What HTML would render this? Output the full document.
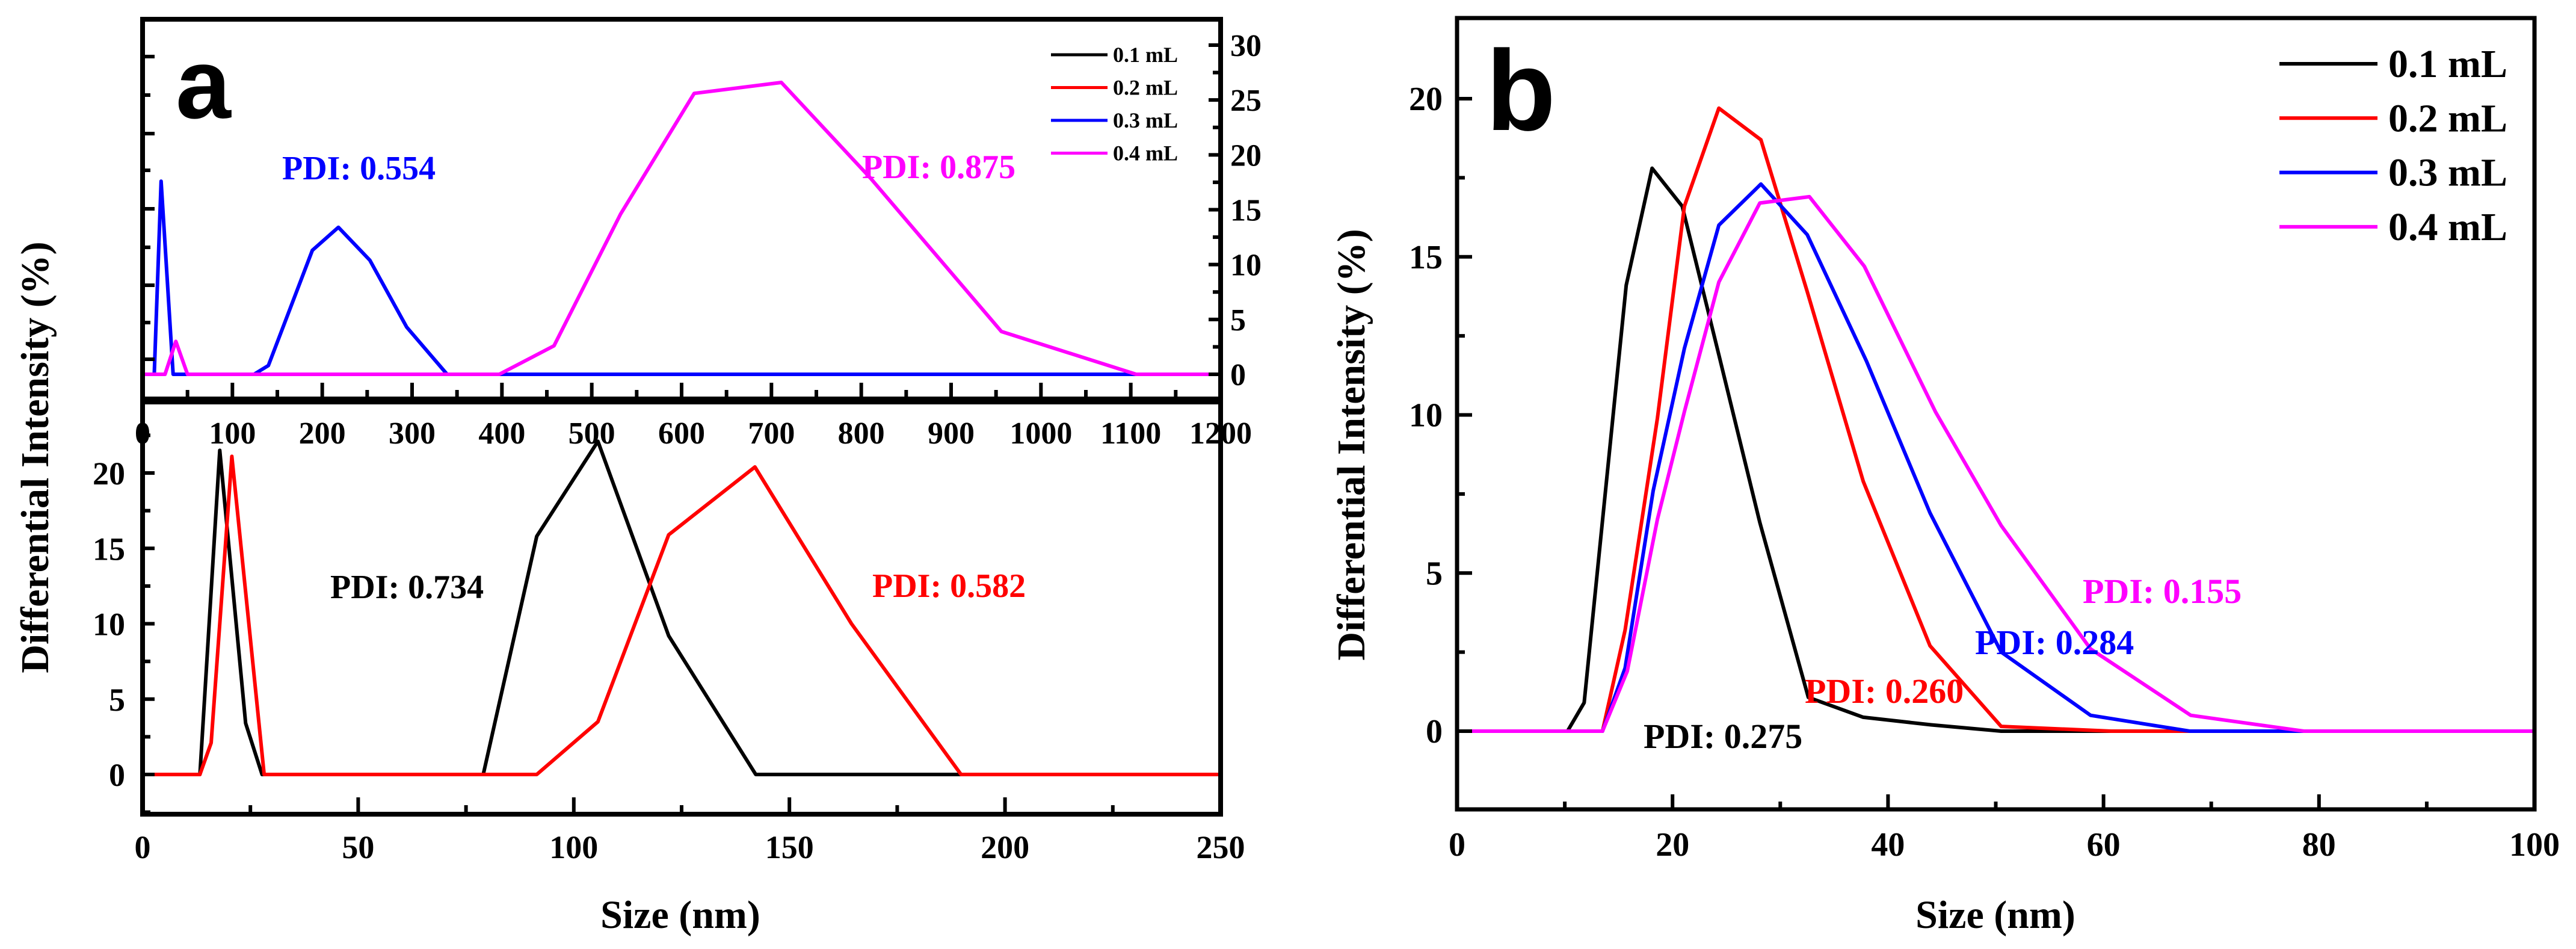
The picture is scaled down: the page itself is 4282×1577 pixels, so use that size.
<!DOCTYPE html>
<html><head><meta charset="utf-8">
<style>
html,body{margin:0;padding:0;background:#fff;}
svg{display:block;font-family:"Liberation Serif",serif;font-weight:bold;}
</style></head>
<body>
<svg id="chart" width="4282" height="1577" viewBox="0 0 4282 1577" xmlns="http://www.w3.org/2000/svg">
<g id="layer"></g>
<text transform="translate(80,760) rotate(-90)" text-anchor="middle" font-size="66" fill="#000">Differential Intensity (%)</text>
<text x="1131" y="1542" text-anchor="middle" font-size="66" fill="#000">Size (nm)</text>
<text transform="translate(2268,739) rotate(-90)" text-anchor="middle" font-size="66" fill="#000">Differential Intensity (%)</text>
<text x="3317" y="1542" text-anchor="middle" font-size="66" fill="#000">Size (nm)</text>
<text x="292" y="196" font-family="Liberation Sans, sans-serif" font-weight="bold" font-size="165" fill="#000">a</text>
<text x="2470" y="216" font-family="Liberation Sans, sans-serif" font-weight="bold" font-size="190" fill="#000">b</text>
<text x="469" y="298" font-size="56" fill="#0000ff">PDI: 0.554</text>
<text x="1433" y="296" font-size="56" fill="#ff00ff">PDI: 0.875</text>
<text x="549" y="994" font-size="56" fill="#000">PDI: 0.734</text>
<text x="1450" y="992" font-size="56" fill="#ff0000">PDI: 0.582</text>
<text x="3462" y="1002" font-size="58" fill="#ff00ff">PDI: 0.155</text>
<text x="3283" y="1087" font-size="58" fill="#0000ff">PDI: 0.284</text>
<text x="3000" y="1168" font-size="58" fill="#ff0000">PDI: 0.260</text>
<text x="2732" y="1243" font-size="58" fill="#000">PDI: 0.275</text>
</svg>
<script>
// ---- data ----
const legendLabels = ["0.1 mL","0.2 mL","0.3 mL","0.4 mL"];
const seriesColors = ["#000000","#ff0000","#0000ff","#ff00ff"];
// panel a upper
const aTopBlueX = [0,13,20.6,34,124,140,189,218,253,294,339,1200];
const aTopBlueY = [0,0,17.6,0,0,0.8,11.3,13.4,10.4,4.3,0,0];
const aTopMagX = [0,25,37,50,397,458,532,614,711,810,956,1106,1200];
const aTopMagY = [0,0,3.0,0,0,2.6,14.6,25.6,26.6,17.9,3.9,0,0];
// panel a lower
const aLowBlackX = [0,13.3,17.9,23.9,27.7,79,91.4,105.6,122,142.2,250];
const aLowBlackY = [0,0,21.5,3.4,0,0,15.8,22.1,9.2,0,0];
const aLowRedX = [0,13.3,15.9,20.7,28.2,91.4,105.6,122,142,164.4,189.8,250];
const aLowRedY = [0,0,2.1,21.1,0,0,3.5,15.9,20.4,10.0,0,0];
// panel b
const bBlackX = [0,10.25,11.8,15.7,18.1,20.9,24.3,28.1,32.6,37.7,44,50.5,100];
const bBlackY = [0,0,0.9,14.1,17.8,16.6,11.9,6.6,1.07,0.44,0.2,0,0];
const bRedX = [0,13.5,15.6,18.6,21.1,24.3,28.2,32.5,37.7,43.9,50.5,60.7,100];
const bRedY = [0,0,3.2,9.9,16.6,19.7,18.7,13.9,7.9,2.7,0.15,0,0];
const bBlueX = [0,13.5,15.6,18.2,21.1,24.3,28.2,32.5,38,43.9,50.5,58.8,68,100];
const bBlueY = [0,0,2.0,7.6,12.1,16.0,17.3,15.7,11.7,6.9,2.5,0.5,0,0];
const bMagX = [0,13.5,15.8,18.6,21.1,24.3,28.1,32.7,37.8,44.4,50.5,58.8,68.1,78.6,100];
const bMagY = [0,0,1.9,6.7,10.1,14.2,16.7,16.9,14.7,10.1,6.5,2.6,0.5,0,0];
const aTopXTicks = [0,100,200,300,400,500,600,700,800,900,1000,1100,1200];
const aTopYTicks = [0,5,10,15,20,25,30];
const aLowXTicks = [0,50,100,150,200,250];
const aLowYTicks = [0,5,10,15,20];
const bXTicks = [0,20,40,60,80,100];
const bYTicks = [0,5,10,15,20];

const NS="http://www.w3.org/2000/svg";
const layer=document.getElementById('layer');
function mk(tag,attrs,parent){const e=document.createElementNS(NS,tag);for(const k in attrs)e.setAttribute(k,attrs[k]);(parent||layer).appendChild(e);return e;}
function lin(d0,d1,r0,r1){return v=>r0+(v-d0)*(r1-r0)/(d1-d0);}

const axTopX=lin(0,1200,237,2029), axTopY=lin(0,30,622,75);
const axLowX=lin(0,250,237,2029), axLowY=lin(0,20,1287,786);
const bX=lin(0,100,2422,4213), bY=lin(0,20,1215,164);

function drawLine(xs,ys,fx,fy,color,name){
  const pts=xs.map((x,i)=>fx(x).toFixed(1)+','+fy(ys[i]).toFixed(1)).join(' ');
  const p=mk('polyline',{points:pts,fill:'none',stroke:color,'stroke-width':6,'stroke-linejoin':'round'});
  
  
}
function tickLabel(x,y,txt,anchor,size,name){
  const t=mk('text',{x:x,y:y,'text-anchor':anchor,'font-size':size,fill:'#000'});
  t.textContent=txt;
  
  
}
function tick(x1,y1,x2,y2){
  const l=mk('line',{x1:x1,y1:y1,x2:x2,y2:y2,stroke:'#000','stroke-width':6});
  
  
}

drawLine(aTopBlueX,aTopBlueY,axTopX,axTopY,seriesColors[2],'line-a-top-0.3ml');
drawLine(aTopMagX,aTopMagY,axTopX,axTopY,seriesColors[3],'line-a-top-0.4ml');
drawLine(aLowBlackX,aLowBlackY,axLowX,axLowY,seriesColors[0],'line-a-low-0.1ml');
drawLine(aLowRedX,aLowRedY,axLowX,axLowY,seriesColors[1],'line-a-low-0.2ml');
drawLine(bBlackX,bBlackY,bX,bY,seriesColors[0],'line-b-0.1ml');
drawLine(bRedX,bRedY,bX,bY,seriesColors[1],'line-b-0.2ml');
drawLine(bBlueX,bBlueY,bX,bY,seriesColors[2],'line-b-0.3ml');
drawLine(bMagX,bMagY,bX,bY,seriesColors[3],'line-b-0.4ml');

const f1=mk('rect',{x:237,y:32,width:1792,height:631,fill:'none',stroke:'#000','stroke-width':8});


const f2=mk('rect',{x:237,y:668,width:1792,height:685,fill:'none',stroke:'#000','stroke-width':8});


const f3=mk('rect',{x:2422,y:30,width:1791,height:1315,fill:'none',stroke:'#000','stroke-width':7});



aTopXTicks.forEach(v=>{tick(axTopX(v),663,axTopX(v),636);tickLabel(axTopX(v),737,String(v),'middle',52,'x-tick-label-a-top');});
for(let v=50;v<1200;v+=100)tick(axTopX(v),663,axTopX(v),648);
aTopYTicks.forEach(v=>{tick(2029,axTopY(v),2009,axTopY(v));tickLabel(2045,axTopY(v)+18,String(v),'start',52,'y-tick-label-a-top');});
for(let v=2.5;v<30;v+=5)tick(2029,axTopY(v),2016,axTopY(v));
[94,158,222,283,347,411,474,536,597].forEach((y,i)=>tick(237,y,i%2?250:257,y));
aLowXTicks.forEach(v=>{tick(axLowX(v),1353,axLowX(v),1325);tickLabel(axLowX(v),1426,String(v),'middle',54,'x-tick-label-a-low');});
for(let v=25;v<250;v+=50)tick(axLowX(v),1353,axLowX(v),1338);
aLowYTicks.forEach(v=>{tick(237,axLowY(v),257,axLowY(v));tickLabel(208,axLowY(v)+19,String(v),'end',54,'y-tick-label-a-low');});
for(let v=-2.5;v<25;v+=5)tick(237,axLowY(v),250,axLowY(v));
bXTicks.forEach(v=>{tick(bX(v),1345,bX(v),1320);tickLabel(bX(v),1422,String(v),'middle',56,'x-tick-label-b');});
for(let v=10;v<100;v+=20)tick(bX(v),1345,bX(v),1332);
bYTicks.forEach(v=>{tick(2422,bY(v),2447,bY(v));tickLabel(2398,bY(v)+19,String(v),'end',56,'y-tick-label-b');});
for(let v=2.5;v<22;v+=5)tick(2422,bY(v),2435,bY(v));

legendLabels.forEach((lab,i)=>{
  const y=91+i*54.5;
  const l=mk('line',{x1:1747,y1:y,x2:1841,y2:y,stroke:seriesColors[i],'stroke-width':5});
  
  
  const t=mk('text',{x:1850,y:y+12,'font-size':36,fill:'#000'});t.textContent=lab;
  
  
  const yb=106+i*90.3;
  const l2=mk('line',{x1:3789,y1:yb,x2:3952,y2:yb,stroke:seriesColors[i],'stroke-width':6});
  
  
  const t2=mk('text',{x:3970,y:yb+22,'font-size':66,fill:'#000'});t2.textContent=lab;
  
  
});
</script>
</body></html>
